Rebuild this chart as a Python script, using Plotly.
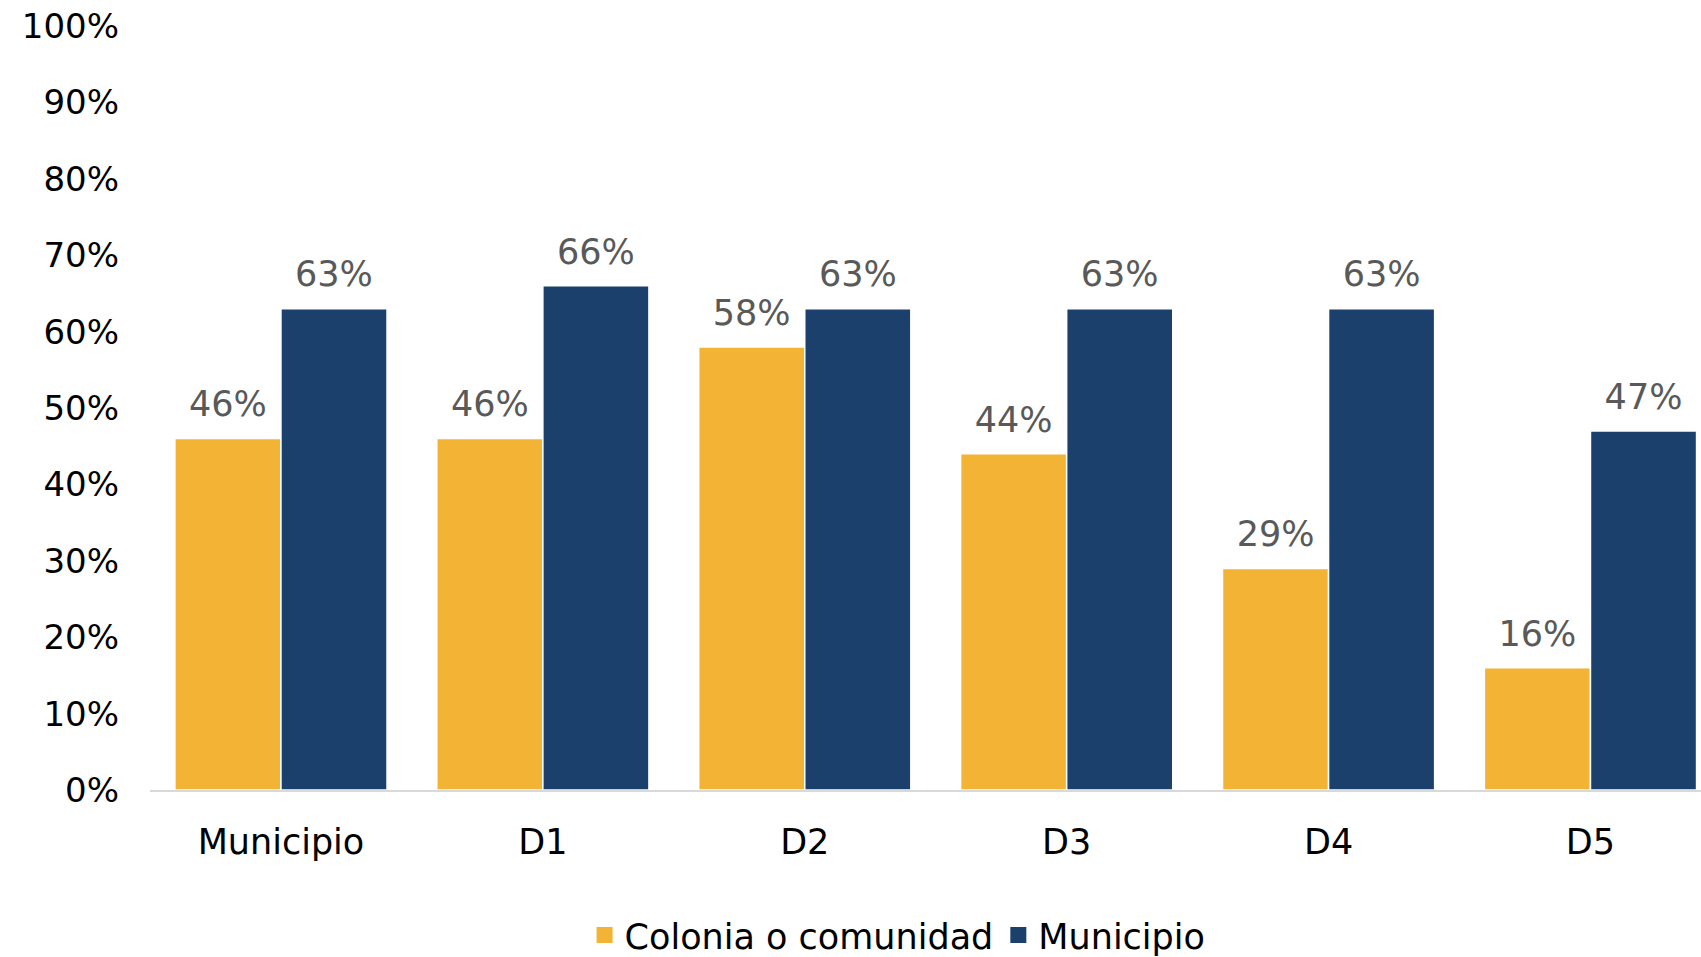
import plotly.graph_objects as go

categories = ["Municipio", "D1", "D2", "D3", "D4", "D5"]
colonia = [0.46, 0.46, 0.58, 0.44, 0.29, 0.16]
municipio = [0.63, 0.66, 0.63, 0.63, 0.63, 0.47]
series_names = ["Colonia o comunidad", "Municipio"]
colors = ["#F3B335", "#1B406C"]
y_ticks = [i / 10 for i in range(11)]

FONT = "DejaVu Sans"

fig = go.Figure()
for name, vals, col in zip(series_names, [colonia, municipio], colors):
    fig.add_trace(go.Bar(
        x=categories, y=vals, name=name, offsetgroup=name, showlegend=False,
        marker=dict(color=col, line=dict(color="white", width=1.5)),
    ))
# value labels sit above each bar, lifted by an invisible marker
for name, vals in zip(series_names, [colonia, municipio]):
    fig.add_trace(go.Scatter(
        x=categories, y=vals, offsetgroup=name, mode="markers+text",
        marker=dict(size=20, opacity=0),
        text=[f"{v:.0%}" for v in vals], textposition="top center",
        textfont=dict(family=FONT, size=35, color="#595959"),
        showlegend=False, hoverinfo="skip",
    ))
# legend entries with larger square swatches
for name, col in zip(series_names, colors):
    fig.add_trace(go.Scatter(
        x=[categories[0]], y=[None], offsetgroup=name, mode="markers", name=name,
        marker=dict(symbol="square", size=22, color=col), hoverinfo="skip",
    ))

fig.update_layout(
    width=1701, height=957,
    margin=dict(l=150, r=0, t=26, b=167, autoexpand=False),
    paper_bgcolor="white", plot_bgcolor="white",
    barmode="group", scattermode="group", bargap=0.19, bargroupgap=0.0,
    font=dict(family=FONT, size=34, color="black"),
    legend=dict(orientation="h", x=0.482, xanchor="center", y=-0.19, yanchor="middle",
                font=dict(family=FONT, size=35, color="black"), traceorder="normal",
                itemwidth=30),
    xaxis=dict(range=[-0.5, 5.422], showline=True, linecolor="#D9D9D9", linewidth=2,
               ticks="", tickfont=dict(size=35), ticklabelstandoff=20, automargin=False),
    yaxis=dict(range=[0, 1], tickvals=y_ticks, tickformat=".0%", showgrid=False,
               zeroline=False, showline=False, tickfont=dict(size=34),
               ticklabelstandoff=30, automargin=False),
)

fig.write_html("out.html")
